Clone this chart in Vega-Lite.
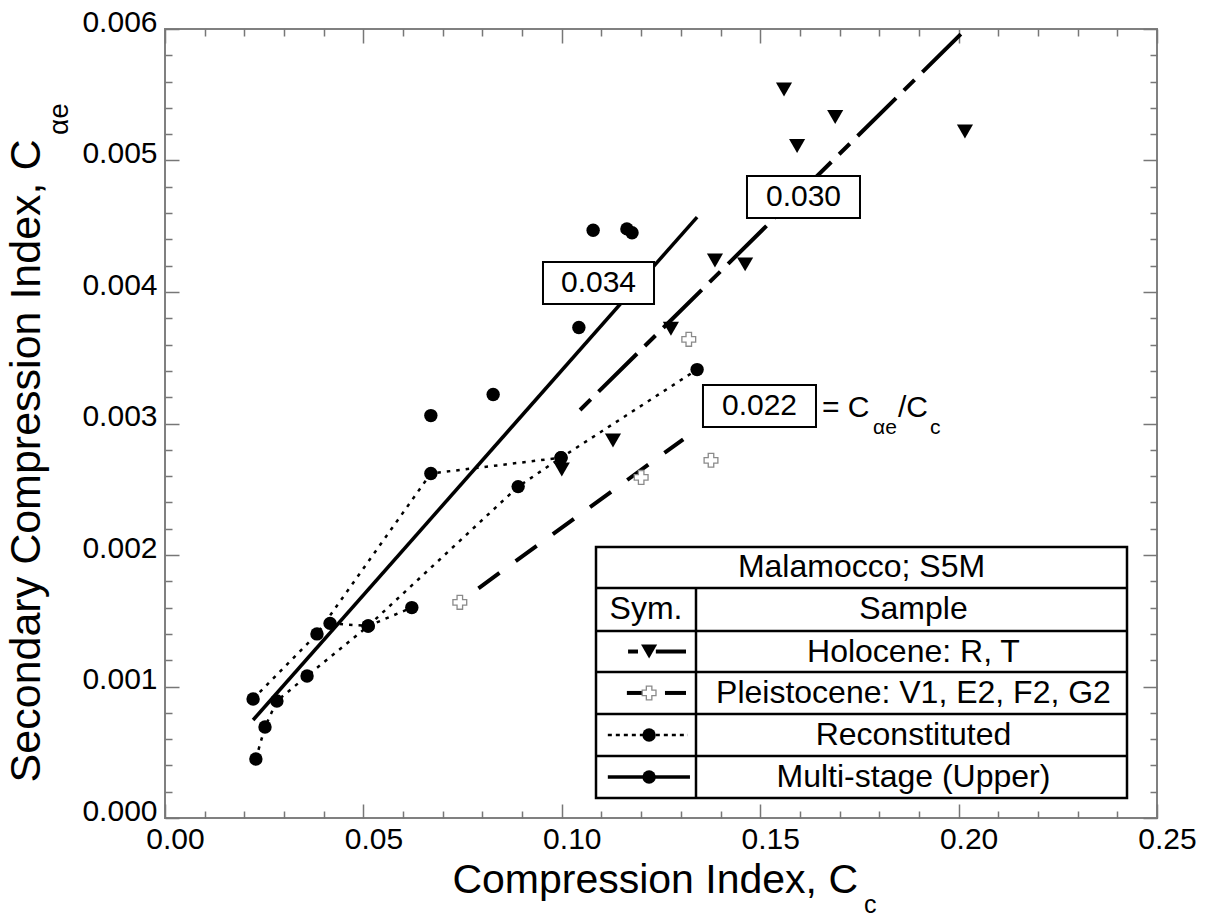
{
  "$schema": "https://vega.github.io/schema/vega-lite/v6.json",
  "width": 992,
  "height": 789,
  "autosize": {"type": "none"},
  "padding": {"left": 165, "top": 29, "right": 50, "bottom": 100},
  "background": "white",
  "config": {
    "view": {"stroke": "#808080", "strokeWidth": 2},
    "font": "Liberation Sans",
    "axis": {"grid": false, "domain": false, "labelFont": "Liberation Sans", "labelColor": "black", "tickColor": "#777777", "tickWidth": 1.5, "labelFlush": false, "labelOverlap": false, "labelBound": false}
  },
  "data": {"values": [{}]},
  "datasets": {
    "points": [
      {"group": "Holocene", "path": "H", "cc": 0.1560, "cae": 0.00554},
      {"group": "Holocene", "path": "H", "cc": 0.1689, "cae": 0.00533},
      {"group": "Holocene", "path": "H", "cc": 0.1593, "cae": 0.00511},
      {"group": "Holocene", "path": "H", "cc": 0.2016, "cae": 0.00522},
      {"group": "Holocene", "path": "H", "cc": 0.1386, "cae": 0.00424},
      {"group": "Holocene", "path": "H", "cc": 0.1462, "cae": 0.00421},
      {"group": "Holocene", "path": "H", "cc": 0.1275, "cae": 0.00372},
      {"group": "Holocene", "path": "H", "cc": 0.1129, "cae": 0.00287},
      {"group": "Holocene", "path": "H", "cc": 0.1000, "cae": 0.00265},
      {"group": "Pleistocene", "path": "P", "cc": 0.1320, "cae": 0.00364},
      {"group": "Pleistocene", "path": "P", "cc": 0.1376, "cae": 0.00272},
      {"group": "Pleistocene", "path": "P", "cc": 0.1200, "cae": 0.00259},
      {"group": "Pleistocene", "path": "P", "cc": 0.0743, "cae": 0.00164},
      {"group": "Reconstituted", "path": "R1", "cc": 0.0222, "cae": 0.000905},
      {"group": "Reconstituted", "path": "R1", "cc": 0.0383, "cae": 0.00140},
      {"group": "Reconstituted", "path": "R1", "cc": 0.0670, "cae": 0.00262},
      {"group": "Reconstituted", "path": "R1", "cc": 0.0998, "cae": 0.00274},
      {"group": "Reconstituted", "path": "R1", "cc": 0.1341, "cae": 0.00341},
      {"group": "Reconstituted", "path": "R2", "cc": 0.0229, "cae": 0.000449},
      {"group": "Reconstituted", "path": "R2", "cc": 0.0252, "cae": 0.000692},
      {"group": "Reconstituted", "path": "R2", "cc": 0.0282, "cae": 0.000890},
      {"group": "Reconstituted", "path": "R2", "cc": 0.0358, "cae": 0.00108},
      {"group": "Reconstituted", "path": "R2", "cc": 0.0512, "cae": 0.00146},
      {"group": "Reconstituted", "path": "R2", "cc": 0.0890, "cae": 0.00252},
      {"group": "Reconstituted", "path": "R2", "cc": 0.0998, "cae": 0.00274},
      {"group": "Reconstituted", "path": "R3", "cc": 0.0416, "cae": 0.00148},
      {"group": "Reconstituted", "path": "R3", "cc": 0.0512, "cae": 0.00146},
      {"group": "Reconstituted", "path": "R3", "cc": 0.0622, "cae": 0.00160},
      {"group": "Multi-stage", "path": "M", "cc": 0.0670, "cae": 0.00306},
      {"group": "Multi-stage", "path": "M", "cc": 0.0827, "cae": 0.00322},
      {"group": "Multi-stage", "path": "M", "cc": 0.1043, "cae": 0.00373},
      {"group": "Multi-stage", "path": "M", "cc": 0.1079, "cae": 0.00447},
      {"group": "Multi-stage", "path": "M", "cc": 0.1164, "cae": 0.00448},
      {"group": "Multi-stage", "path": "M", "cc": 0.1177, "cae": 0.00445}
    ],
    "fits": [
      {"fit": "Holocene", "cc": 0.1046, "cae": 0.003103},
      {"fit": "Holocene", "cc": 0.2011, "cae": 0.005977},
      {"fit": "Pleistocene", "cc": 0.0790, "cae": 0.001747},
      {"fit": "Pleistocene", "cc": 0.1306, "cae": 0.00288},
      {"fit": "Multi-stage", "cc": 0.0222, "cae": 0.000745},
      {"fit": "Multi-stage", "cc": 0.1341, "cae": 0.00457}
    ]
  },
  "resolve": {"axis": {"x": "independent", "y": "independent"}},
  "layer": [
    {
      "data": {"name": "fits"},
      "transform": [{"filter": "datum.fit == 'Holocene'"}],
      "mark": {"type": "line", "color": "black", "strokeWidth": 4, "strokeDash": [15, 11, 54, 11], "strokeCap": "butt"},
      "encoding": {
        "x": {"field": "cc", "type": "quantitative", "scale": {"domain": [0, 0.25], "nice": false, "zero": false},
          "axis": {"orient": "bottom", "values": [0, 0.05, 0.1, 0.15, 0.2, 0.25], "labels": false, "tickSize": -14, "title": null}},
        "y": {"field": "cae", "type": "quantitative", "scale": {"domain": [0, 0.006], "nice": false, "zero": false},
          "axis": {"orient": "left", "values": [0, 0.001, 0.002, 0.003, 0.004, 0.005, 0.006], "labels": false, "tickSize": -14, "title": null}}
      }
    },
    {
      "data": {"name": "fits"},
      "transform": [{"filter": "datum.fit == 'Pleistocene'"}],
      "mark": {"type": "line", "color": "black", "strokeWidth": 4, "strokeDash": [26, 20], "strokeCap": "butt"},
      "encoding": {
        "x": {"field": "cc", "type": "quantitative",
          "axis": {"orient": "top", "values": [0, 0.05, 0.1, 0.15, 0.2, 0.25], "labels": false, "tickSize": -14, "title": null}},
        "y": {"field": "cae", "type": "quantitative",
          "axis": {"orient": "right", "values": [0, 0.001, 0.002, 0.003, 0.004, 0.005, 0.006], "labels": false, "tickSize": -14, "title": null}}
      }
    },
    {
      "data": {"name": "fits"},
      "transform": [{"filter": "datum.fit == 'Multi-stage'"}],
      "mark": {"type": "line", "color": "black", "strokeWidth": 3.5},
      "encoding": {
        "x": {"field": "cc", "type": "quantitative",
          "axis": {"orient": "bottom", "values": [0.01, 0.02, 0.03, 0.04, 0.06, 0.07, 0.08, 0.09, 0.11, 0.12, 0.13, 0.14, 0.16, 0.17, 0.18, 0.19, 0.21, 0.22, 0.23, 0.24], "labels": false, "tickSize": -7, "title": null}},
        "y": {"field": "cae", "type": "quantitative",
          "axis": {"orient": "left", "values": [0.0002, 0.0004, 0.0006, 0.0008, 0.0012, 0.0014, 0.0016, 0.0018, 0.0022, 0.0024, 0.0026, 0.0028, 0.0032, 0.0034, 0.0036, 0.0038, 0.0042, 0.0044, 0.0046, 0.0048, 0.0052, 0.0054, 0.0056, 0.0058], "labels": false, "tickSize": -7, "title": null}}
      }
    },
    {
      "data": {"name": "points"},
      "transform": [{"filter": "datum.group == 'Reconstituted'"}],
      "mark": {"type": "line", "color": "black", "strokeWidth": 2.5, "strokeDash": [3.5, 6]},
      "encoding": {
        "x": {"field": "cc", "type": "quantitative",
          "axis": {"orient": "top", "values": [0.01, 0.02, 0.03, 0.04, 0.06, 0.07, 0.08, 0.09, 0.11, 0.12, 0.13, 0.14, 0.16, 0.17, 0.18, 0.19, 0.21, 0.22, 0.23, 0.24], "labels": false, "tickSize": -7, "title": null}},
        "y": {"field": "cae", "type": "quantitative",
          "axis": {"orient": "right", "values": [0.0002, 0.0004, 0.0006, 0.0008, 0.0012, 0.0014, 0.0016, 0.0018, 0.0022, 0.0024, 0.0026, 0.0028, 0.0032, 0.0034, 0.0036, 0.0038, 0.0042, 0.0044, 0.0046, 0.0048, 0.0052, 0.0054, 0.0056, 0.0058], "labels": false, "tickSize": -7, "title": null}},
        "detail": {"field": "path"}
      }
    },
    {
      "mark": {"type": "rect", "fill": "white", "stroke": "black", "strokeWidth": 2},
      "encoding": {"x": {"datum": 0.09526, "axis": null}, "x2": {"datum": 0.12324}, "y": {"datum": 0.003909, "axis": null}, "y2": {"datum": 0.004228}}
    },
    {
      "mark": {"type": "rect", "fill": "white", "stroke": "black", "strokeWidth": 2},
      "encoding": {"x": {"datum": 0.14667, "axis": null}, "x2": {"datum": 0.17515}, "y": {"datum": 0.004563, "axis": null}, "y2": {"datum": 0.004882}}
    },
    {
      "mark": {"type": "rect", "fill": "white", "stroke": "black", "strokeWidth": 2},
      "encoding": {"x": {"datum": 0.13558, "axis": null}, "x2": {"datum": 0.16406}, "y": {"datum": 0.002973, "axis": null}, "y2": {"datum": 0.003293}}
    },
    {
      "mark": {"type": "text", "text": "0.034", "fontSize": 30, "align": "center", "baseline": "middle"},
      "encoding": {"x": {"datum": 0.10925, "axis": null}, "y": {"datum": 0.004068, "axis": null}}
    },
    {
      "mark": {"type": "text", "text": "0.030", "fontSize": 30, "align": "center", "baseline": "middle"},
      "encoding": {"x": {"datum": 0.16091, "axis": null}, "y": {"datum": 0.004722, "axis": null}}
    },
    {
      "mark": {"type": "text", "text": "0.022", "fontSize": 30, "align": "center", "baseline": "middle"},
      "encoding": {"x": {"datum": 0.14982, "axis": null}, "y": {"datum": 0.003133, "axis": null}}
    },
    {
      "mark": {"type": "text", "text": "= C", "fontSize": 30, "align": "left", "baseline": "alphabetic"},
      "encoding": {"x": {"datum": 0.16557, "axis": null}, "y": {"datum": 0.003049, "axis": null}}
    },
    {
      "mark": {"type": "text", "text": "αe", "fontSize": 21, "align": "left", "baseline": "alphabetic"},
      "encoding": {"x": {"datum": 0.17843, "axis": null}, "y": {"datum": 0.00292, "axis": null}}
    },
    {
      "mark": {"type": "text", "text": "/C", "fontSize": 30, "align": "left", "baseline": "alphabetic"},
      "encoding": {"x": {"datum": 0.18473, "axis": null}, "y": {"datum": 0.003049, "axis": null}}
    },
    {
      "mark": {"type": "text", "text": "c", "fontSize": 21, "align": "left", "baseline": "alphabetic"},
      "encoding": {"x": {"datum": 0.19279, "axis": null}, "y": {"datum": 0.00292, "axis": null}}
    },
    {
      "data": {"name": "points"},
      "transform": [{"filter": "datum.group == 'Holocene'"}],
      "mark": {"type": "point", "shape": "triangle-down", "filled": true, "color": "black", "size": 260, "opacity": 1},
      "encoding": {
        "x": {"field": "cc", "type": "quantitative",
          "axis": {"orient": "bottom", "values": [0, 0.05, 0.1, 0.15, 0.2, 0.25], "format": ".2f", "ticks": false, "labelFontSize": 30, "labelPadding": 6, "labelOffset": 10, "title": null}},
        "y": {"field": "cae", "type": "quantitative",
          "axis": {"orient": "left", "values": [0, 0.001, 0.002, 0.003, 0.004, 0.005, 0.006], "format": ".3f", "ticks": false, "labelFontSize": 30, "labelPadding": 8, "labelOffset": -7, "title": null}}
      }
    },
    {
      "data": {"name": "points"},
      "transform": [{"filter": "datum.group == 'Pleistocene'"}],
      "mark": {"type": "point", "shape": "cross", "filled": false, "fill": "white", "fillOpacity": 1, "stroke": "#8a8a8a", "strokeWidth": 1.3, "size": 190, "opacity": 1},
      "encoding": {"x": {"field": "cc", "type": "quantitative", "axis": null}, "y": {"field": "cae", "type": "quantitative", "axis": null}}
    },
    {
      "data": {"name": "points"},
      "transform": [{"filter": {"field": "group", "oneOf": ["Reconstituted", "Multi-stage"]}}],
      "mark": {"type": "circle", "color": "black", "size": 180, "opacity": 1},
      "encoding": {"x": {"field": "cc", "type": "quantitative", "axis": null}, "y": {"field": "cae", "type": "quantitative", "axis": null}}
    },
    {
      "mark": {"type": "rect", "fill": "white", "stroke": "black", "strokeWidth": 2.5},
      "encoding": {"x": {"datum": 0.10862, "axis": null}, "x2": {"datum": 0.24244}, "y": {"datum": 0.000152, "axis": null}, "y2": {"datum": 0.002061}}
    },
    {"mark": {"type": "rule", "color": "black", "strokeWidth": 2.5}, "encoding": {"x": {"datum": 0.10862, "axis": null}, "x2": {"datum": 0.24244}, "y": {"datum": 0.001749, "axis": null}}},
    {"mark": {"type": "rule", "color": "black", "strokeWidth": 2.5}, "encoding": {"x": {"datum": 0.10862, "axis": null}, "x2": {"datum": 0.24244}, "y": {"datum": 0.001422, "axis": null}}},
    {"mark": {"type": "rule", "color": "black", "strokeWidth": 2.5}, "encoding": {"x": {"datum": 0.10862, "axis": null}, "x2": {"datum": 0.24244}, "y": {"datum": 0.001110, "axis": null}}},
    {"mark": {"type": "rule", "color": "black", "strokeWidth": 2.5}, "encoding": {"x": {"datum": 0.10862, "axis": null}, "x2": {"datum": 0.24244}, "y": {"datum": 0.000791, "axis": null}}},
    {"mark": {"type": "rule", "color": "black", "strokeWidth": 2.5}, "encoding": {"x": {"datum": 0.10862, "axis": null}, "x2": {"datum": 0.24244}, "y": {"datum": 0.000471, "axis": null}}},
    {"mark": {"type": "rule", "color": "black", "strokeWidth": 2.5}, "encoding": {"x": {"datum": 0.13382, "axis": null}, "y": {"datum": 0.000152, "axis": null}, "y2": {"datum": 0.001749}}},
    {"mark": {"type": "text", "text": "Malamocco; S5M", "fontSize": 32, "align": "center", "baseline": "middle"}, "encoding": {"x": {"datum": 0.17553, "axis": null}, "y": {"datum": 0.001905, "axis": null}}},
    {"mark": {"type": "text", "text": "Sym.", "fontSize": 32, "align": "center", "baseline": "middle"}, "encoding": {"x": {"datum": 0.12122, "axis": null}, "y": {"datum": 0.001586, "axis": null}}},
    {"mark": {"type": "text", "text": "Sample", "fontSize": 32, "align": "center", "baseline": "middle"}, "encoding": {"x": {"datum": 0.18863, "axis": null}, "y": {"datum": 0.001586, "axis": null}}},
    {"mark": {"type": "text", "text": "Holocene: R, T", "fontSize": 32, "align": "center", "baseline": "middle"}, "encoding": {"x": {"datum": 0.18863, "axis": null}, "y": {"datum": 0.001266, "axis": null}}},
    {"mark": {"type": "text", "text": "Pleistocene: V1, E2, F2, G2", "fontSize": 32, "align": "center", "baseline": "middle"}, "encoding": {"x": {"datum": 0.18863, "axis": null}, "y": {"datum": 0.000951, "axis": null}}},
    {"mark": {"type": "text", "text": "Reconstituted", "fontSize": 32, "align": "center", "baseline": "middle"}, "encoding": {"x": {"datum": 0.18863, "axis": null}, "y": {"datum": 0.000631, "axis": null}}},
    {"mark": {"type": "text", "text": "Multi-stage (Upper)", "fontSize": 32, "align": "center", "baseline": "middle"}, "encoding": {"x": {"datum": 0.18863, "axis": null}, "y": {"datum": 0.000312, "axis": null}}},
    {"mark": {"type": "rule", "color": "black", "strokeWidth": 4}, "encoding": {"x": {"datum": 0.1167, "axis": null}, "x2": {"datum": 0.1192}, "y": {"datum": 0.001266, "axis": null}}},
    {"mark": {"type": "rule", "color": "black", "strokeWidth": 4}, "encoding": {"x": {"datum": 0.1237, "axis": null}, "x2": {"datum": 0.1313}, "y": {"datum": 0.001266, "axis": null}}},
    {"mark": {"type": "point", "shape": "triangle-down", "filled": true, "color": "black", "size": 260, "opacity": 1}, "encoding": {"x": {"datum": 0.1220, "axis": null}, "y": {"datum": 0.001266, "axis": null}}},
    {"mark": {"type": "rule", "color": "black", "strokeWidth": 4}, "encoding": {"x": {"datum": 0.1164, "axis": null}, "x2": {"datum": 0.1207}, "y": {"datum": 0.000951, "axis": null}}},
    {"mark": {"type": "rule", "color": "black", "strokeWidth": 4}, "encoding": {"x": {"datum": 0.1260, "axis": null}, "x2": {"datum": 0.1313}, "y": {"datum": 0.000951, "axis": null}}},
    {"mark": {"type": "point", "shape": "cross", "filled": false, "fill": "white", "fillOpacity": 1, "stroke": "#8a8a8a", "strokeWidth": 1.3, "size": 190, "opacity": 1}, "encoding": {"x": {"datum": 0.1220, "axis": null}, "y": {"datum": 0.000951, "axis": null}}},
    {"mark": {"type": "rule", "color": "black", "strokeWidth": 2.5, "strokeDash": [4, 4]}, "encoding": {"x": {"datum": 0.1116, "axis": null}, "x2": {"datum": 0.1318}, "y": {"datum": 0.000631, "axis": null}}},
    {"mark": {"type": "circle", "color": "black", "size": 180, "opacity": 1}, "encoding": {"x": {"datum": 0.1220, "axis": null}, "y": {"datum": 0.000631, "axis": null}}},
    {"mark": {"type": "rule", "color": "black", "strokeWidth": 3.5}, "encoding": {"x": {"datum": 0.1116, "axis": null}, "x2": {"datum": 0.1323}, "y": {"datum": 0.000312, "axis": null}}},
    {"mark": {"type": "circle", "color": "black", "size": 180, "opacity": 1}, "encoding": {"x": {"datum": 0.1220, "axis": null}, "y": {"datum": 0.000312, "axis": null}}},
    {"mark": {"type": "text", "text": "Compression Index, C", "fontSize": 41, "align": "right", "baseline": "alphabetic"}, "encoding": {"x": {"datum": 0.17465, "axis": null}, "y": {"datum": -0.00057, "axis": null}}},
    {"mark": {"type": "text", "text": "c", "fontSize": 25, "align": "left", "baseline": "alphabetic"}, "encoding": {"x": {"datum": 0.17616, "axis": null}, "y": {"datum": -0.000722, "axis": null}}},
    {"mark": {"type": "text", "text": "Secondary Compression Index, C", "fontSize": 43, "angle": 270, "align": "right", "baseline": "alphabetic"}, "encoding": {"x": {"datum": -0.0315, "axis": null}, "y": {"datum": 0.00516, "axis": null}}},
    {"mark": {"type": "text", "text": "αe", "fontSize": 28, "angle": 270, "align": "left", "baseline": "alphabetic"}, "encoding": {"x": {"datum": -0.0245, "axis": null}, "y": {"datum": 0.005194, "axis": null}}}
  ]
}
